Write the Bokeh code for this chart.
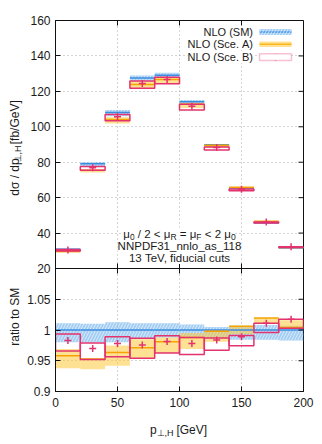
import math
from bokeh.plotting import figure
from bokeh.layouts import column, row
from bokeh.models import Range1d, FixedTicker, Label, Span, BoxAnnotation
from bokeh.embed import file_html
from bokeh.resources import INLINE

# ---------------- data ----------------
BIN_EDGES = [0, 20, 40, 60, 80, 100, 120, 140, 160, 180, 200]
SM_XS = [30.9, 79.2, 108.1, 127.6, 129.1, 114.1, 89.8, 65.5, 45.8, 31.7]
SM_LO_R = [0.980, 0.980, 0.980, 0.987, 0.988, 0.989, 0.987, 0.984, 0.984, 0.983]
SM_HI_R = [1.011, 1.010, 1.0125, 1.011, 1.011, 1.009, 1.005, 1.007, 1.008, 1.007]
A_R = [0.958, 0.953, 0.9636, 0.971, 0.981, 0.988, 0.998, 1.006, 1.0196, 1.004]
A_LO_R = [0.938, 0.936, 0.942, 0.954, 0.9625, 0.969, 0.981, 0.993, 1.011, 1.002]
A_HI_R = [0.969, 0.954, 0.975, 0.985, 0.988, 0.995, 1.000, 1.006, 1.0196, 1.016]
B_R = [0.983, 0.970, 0.978, 0.9755, 0.9815, 0.978, 0.9837, 0.989, 1.011, 1.0174]
B_LO_R = [0.966, 0.952, 0.9565, 0.954, 0.9625, 0.960, 0.967, 0.9745, 0.996, 1.0027]
B_HI_R = [0.9935, 0.979, 0.989, 0.9865, 0.9908, 0.988, 0.987, 0.991, 1.011, 1.0174]

X_TICKS = [0, 50, 100, 150, 200]
Y_TICKS = [20, 40, 60, 80, 100, 120, 140, 160]
R_TICKS = [0.9, 0.95, 1.0, 1.05]
R_TICK_LABELS = ["0.9", "0.95", "1", "1.05"]
LEGEND = ["NLO (SM)", "NLO (Sce. A)", "NLO (Sce. B)"]
INFO_LINE2 = "NNPDF31_nnlo_as_118"
INFO_LINE3 = "13 TeV, fiducial cuts"
RATIO_TITLE = "ratio to SM"

# ---------------- geometry / style ----------------
PAGE_W, PAGE_H = 322, 444
STRIP_L = 24             # left strip (y titles)
FL, FT = 54, 20          # frame left / top on the page
FW = 248                 # frame width
H_TOP, H_BOT = 248, 123  # panel heights
MAIN_BOTTOM = 23
MAIN_H = FT + H_TOP + H_BOT + MAIN_BOTTOM
X_MIN, X_MAX = 0, 200
Y_MIN, Y_MAX = 20, 160
R_MIN, R_MAX = 0.9, 1.1

FONT = "Liberation Sans"
TXT = "#1a1a1a"
AX = "#111111"
C_SM = "#3b8de0"
C_SM_BAND = "#5aa5ea"
C_A = "#f5a300"
C_A_BAND = "#ffc83a"
C_B = "#e2336f"
C_GRID = "#a8a8a8"

y_per_px = (Y_MAX - Y_MIN) / H_TOP
r_per_px = (R_MAX - R_MIN) / H_BOT
y_start = Y_MIN - H_BOT * y_per_px
r_end = R_MAX + H_TOP * r_per_px


def r2y(r):
    return Y_MIN + (r - R_MAX) / r_per_px * y_per_px


def px2x(px):
    return X_MIN + (px - FL) * (X_MAX - X_MIN) / FW


def py2y(py):
    return Y_MAX - (py - FT) * y_per_px


def ident(v):
    return v


CW = {' ': 278, '!': 278, '(': 333, ')': 333, ',': 278, '.': 278, '/': 278,
      '<': 584, '=': 584, '>': 584, '[': 278, ']': 278, '_': 556,
      'A': 667, 'B': 667, 'D': 722, 'F': 611, 'G': 778, 'H': 722, 'L': 556,
      'M': 833, 'N': 722, 'O': 778, 'P': 667, 'R': 722, 'S': 667, 'T': 611, 'V': 667,
      'a': 556, 'b': 556, 'c': 500, 'd': 556, 'e': 556, 'f': 278, 'i': 222, 'l': 222,
      'n': 556, 'o': 556, 'p': 556, 'r': 333, 's': 500, 't': 278, 'u': 556,
      'μ': 576, 'σ': 600, '⊥': 838}


def text_w(s, size):
    return sum(CW.get(c, 556) for c in s) * size / 1000.0


def label(fig, x, y, text, size, angle=0.0, align="left", baseline="alphabetic", bg=None):
    fig.add_layout(Label(x=x, y=y, text=text.replace(" ", "\u00a0"), angle=angle,
                         text_align=align, text_baseline=baseline,
                         text_font=FONT, text_font_size=f"{size:.1f}px",
                         text_color=TXT, background_fill_color=bg))


def rich(fig, fx, fy, segs, px, py, size, angle=0.0, bg=None, shift=3.0):
    """Lay out text segments (text, is_subscript) centred on page point (px, py)."""
    sub_size = size * 0.75
    widths = [text_w(t, sub_size if s else size) for t, s in segs]
    pos = -sum(widths) / 2
    for (t, s), w in zip(segs, widths):
        fs = sub_size if s else size
        if angle == 0:
            x, y = px + pos, py + (shift if s else 0)
        else:
            x, y = px + (shift if s else 0), py - pos
        label(fig, fx(x), fy(y), t, fs, angle=angle, bg=bg)
        pos += w


# ---------------- main figure ----------------
p = figure(x_range=Range1d(X_MIN, X_MAX), y_range=Range1d(y_start, Y_MAX),
           frame_width=FW, frame_height=H_TOP + H_BOT,
           min_border_left=FL - STRIP_L, min_border_top=FT,
           min_border_right=PAGE_W - FL - FW, min_border_bottom=MAIN_BOTTOM,
           output_backend="svg", toolbar_location=None)
p.extra_y_ranges = {"ratio": Range1d(R_MIN, r_end)}
p.background_fill_color = "white"
p.border_fill_color = "white"
p.outline_line_color = AX
p.outline_line_width = 1

y_ticks_all = [float(t) for t in Y_TICKS] + [r2y(r) for r in R_TICKS]
overrides = {float(t): str(t) for t in Y_TICKS}
for r, lab in zip(R_TICKS, R_TICK_LABELS):
    overrides[r2y(r)] = lab


def style_axis(ax):
    ax.major_tick_in = 5
    ax.major_tick_out = 0
    ax.minor_tick_in = 0
    ax.minor_tick_out = 0
    ax.axis_line_color = AX
    ax.major_tick_line_color = AX
    ax.major_label_text_font = FONT
    ax.major_label_text_font_size = "12px"
    ax.major_label_text_color = TXT
    ax.major_label_standoff = 5


xb = p.xaxis[0]
xb.ticker = FixedTicker(ticks=X_TICKS)
style_axis(xb)
xb.major_label_standoff = 6
yl = p.yaxis[0]
yl.ticker = FixedTicker(ticks=y_ticks_all)
yl.major_label_overrides = overrides
style_axis(yl)

p.xgrid.ticker = FixedTicker(ticks=X_TICKS[1:-1])
p.ygrid.ticker = FixedTicker(ticks=[float(t) for t in Y_TICKS[1:-1]] + [r2y(r) for r in R_TICKS[1:]])
for g in (p.xgrid[0], p.ygrid[0]):
    g.grid_line_color = C_GRID
    g.grid_line_dash = "1 3"
    g.grid_line_width = 1

# ---------------- data glyphs ----------------
lo = BIN_EDGES[:-1]
hi = BIN_EDGES[1:]


def draw(scale, rng):
    def sc(rs):
        return [s * r for s, r in zip(scale, rs)]
    one = [s / s for s in SM_XS]
    p.quad(left=lo, right=hi, bottom=sc(SM_LO_R), top=sc(SM_HI_R), y_range_name=rng,
           fill_color=C_SM_BAND, fill_alpha=0.55, line_color=None,
           hatch_pattern="/", hatch_color="white", hatch_alpha=0.55,
           hatch_scale=6, hatch_weight=1)
    p.quad(left=lo, right=hi, bottom=sc(A_LO_R), top=sc(A_HI_R), y_range_name=rng,
           fill_color=C_A_BAND, fill_alpha=0.55, line_color=None)
    p.segment(x0=lo, x1=hi, y0=sc(one), y1=sc(one), y_range_name=rng,
              line_color=C_SM, line_width=1.5)
    p.segment(x0=lo, x1=hi, y0=sc(A_R), y1=sc(A_R), y_range_name=rng,
              line_color=C_A, line_width=1.5)
    p.quad(left=lo, right=hi, bottom=sc(B_LO_R), top=sc(B_HI_R), y_range_name=rng,
           fill_color=None, line_color=C_B, line_width=1.5)
    mids = [(a + b) / 2 for a, b in zip(lo, hi)]
    p.scatter(x=mids, y=sc(B_R), marker="cross", size=7, y_range_name=rng,
              line_color=C_B, line_width=1.5)


draw(SM_XS, "default")
draw([s / s for s in SM_XS], "ratio")

# panel boundary and mirrored inward ticks (halves outside the frame are clipped)
p.add_layout(Span(location=Y_MIN, dimension="width", line_color=AX, line_width=1))
inner_x = X_TICKS[1:-1]
p.scatter(x=inner_x, y=[Y_MIN] * len(inner_x), marker="dash", angle=math.pi / 2,
          size=10, line_color=AX, line_width=1)
p.scatter(x=inner_x, y=[Y_MAX] * len(inner_x), marker="dash", angle=math.pi / 2,
          size=10, line_color=AX, line_width=1)
p.scatter(x=[X_MAX] * len(y_ticks_all), y=y_ticks_all, marker="dash",
          size=10, line_color=AX, line_width=1)

# ---------------- legend ----------------
leg_y = [31.5, 43.7, 56.6]
for t, y in zip(LEGEND, leg_y):
    label(p, px2x(251.5), py2y(y), t, 11, align="right", baseline="middle", bg="white")
sx0, sx1 = px2x(258), px2x(290)
p.add_layout(BoxAnnotation(left=sx0, right=sx1, top=py2y(28.5), bottom=py2y(34.5),
                           fill_color=C_SM_BAND, fill_alpha=0.55, line_color=None,
                           hatch_pattern="/", hatch_color="white", hatch_alpha=0.55,
                           hatch_scale=6, hatch_weight=1))
p.add_layout(BoxAnnotation(left=sx0, right=sx1, top=py2y(40.9), bottom=py2y(46.5),
                           fill_color=C_A_BAND, fill_alpha=0.55, line_color=None))
p.segment(x0=[sx0, sx0], x1=[sx1, sx1], y0=[py2y(31.5), py2y(43.7)], y1=[py2y(31.5), py2y(43.7)],
          line_color=[C_SM, C_A], line_width=1.5)
p.add_layout(BoxAnnotation(left=sx0, right=sx1, top=py2y(53.3), bottom=py2y(60.1),
                           fill_color="white", fill_alpha=1.0, line_color=C_B, line_width=1.5))
p.scatter(x=[(sx0 + sx1) / 2], y=[py2y(56.7)], marker="cross", size=7,
          line_color=C_B, line_width=1.5)

# ---------------- info text ----------------
cx = FL + FW / 2
rich(p, px2x, py2y, [("μ", 0), ("0", 1), (" / 2 < μ", 0), ("R", 1), (" = μ", 0), ("F", 1),
                     (" < 2 μ", 0), ("0", 1)], cx, 233, 11.5, bg="white")
label(p, px2x(cx), py2y(245.5), INFO_LINE2, 11.5, align="center", bg="white")
label(p, px2x(cx), py2y(257.5), INFO_LINE3, 11.5, align="center", bg="white")


# ---------------- strips carrying the axis titles ----------------
def strip(w, h, x0, y0):
    f = figure(width=w, height=h, x_range=Range1d(x0, x0 + w), y_range=Range1d(y0 + h, y0),
               min_border_left=0, min_border_right=0, min_border_top=0, min_border_bottom=0,
               x_axis_type=None, y_axis_type=None, output_backend="svg", toolbar_location=None)
    f.outline_line_color = None
    f.background_fill_color = "white"
    f.border_fill_color = "white"
    f.xgrid.visible = False
    f.ygrid.visible = False
    return f


left = strip(STRIP_L, MAIN_H, 0, 0)
rich(left, ident, ident, [("dσ / dp", 0), ("⊥,H", 1), (" [fb/GeV]", 0)],
     14.5, FT + H_TOP / 2 + 1, 12, angle=math.pi / 2, shift=2.5)
label(left, 14.5, FT + H_TOP + H_BOT / 2 + 1, RATIO_TITLE, 12, angle=math.pi / 2,
      align="center")

bottom = strip(PAGE_W, PAGE_H - MAIN_H, 0, MAIN_H)
rich(bottom, ident, ident, [("p", 0), ("⊥,H", 1), (" [GeV]", 0)], cx, 429, 12)

layout = column(row(left, p), bottom)
open("out.html", "w").write(file_html(layout, INLINE))
